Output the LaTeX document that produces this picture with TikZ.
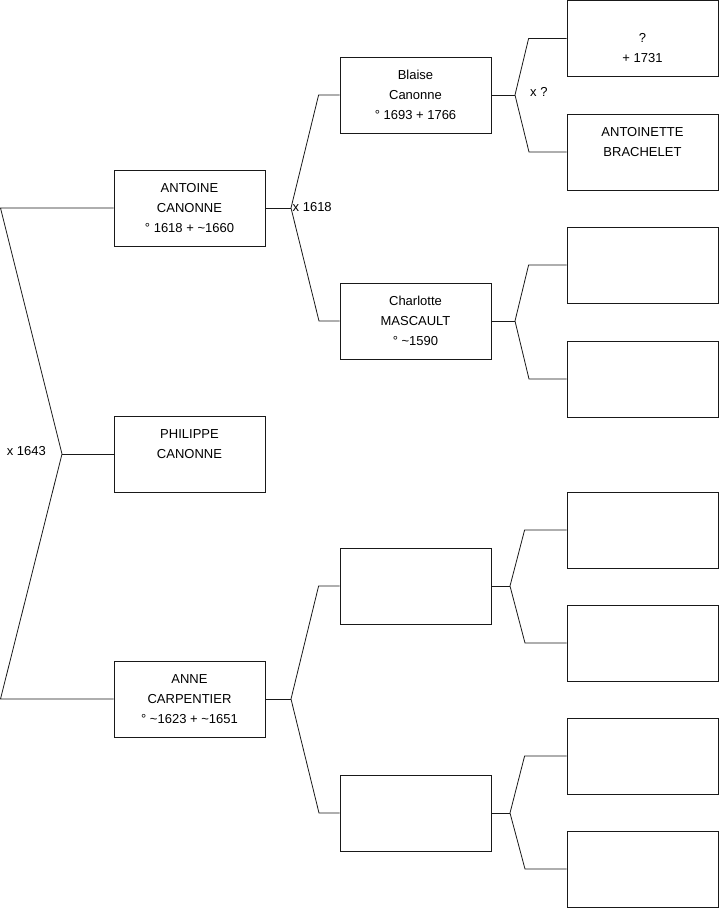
\documentclass[tikz,border=0pt]{standalone}
\usepackage{fontspec}
\setmainfont{Liberation Sans}
\begin{document}
\begin{tikzpicture}[x=1pt,y=-1pt,
  person/.style={draw=black!90, line width=0.8pt, fill=white, rectangle,
    minimum width=151pt, minimum height=76pt, inner sep=0pt, align=center,
    font=\fontsize{13}{20}\selectfont},
  link/.style={draw=black!90, line width=0.8pt},
  lbl/.style={font=\fontsize{13}{15}\selectfont, inner sep=0pt}]
\useasboundingbox (0,0) rectangle (719,908);
% generation 1
\node[person] (antoine) at (189.5,208) {\strut ANTOINE\\\strut CANONNE\\\strut ° 1618 + \textasciitilde1660};
\node[person] (philippe) at (189.5,454) {\strut PHILIPPE\\\strut CANONNE\\\strut\mbox{}};
\node[person] (anne) at (189.5,699) {\strut ANNE\\\strut CARPENTIER\\\strut ° \textasciitilde1623 + \textasciitilde1651};
% generation 2
\node[person] (blaise) at (415.5,95) {\strut Blaise\\\strut Canonne\\\strut ° 1693 + 1766};
\node[person] (charlotte) at (415.5,321) {\strut Charlotte\\\strut MASCAULT\\\strut ° \textasciitilde1590};
\node[person] (e1) at (415.5,586) {};
\node[person] (e2) at (415.5,813) {};
% generation 3
\node[person] (g1) at (642.5,38.5) {\strut\mbox{}\\\strut ?\\\strut + 1731};
\node[person] (g2) at (642.5,152) {\strut ANTOINETTE\\\strut BRACHELET\\\strut\mbox{}};
\node[person] (g3) at (642.5,265) {};
\node[person] (g4) at (642.5,379) {};
\node[person] (g5) at (642.5,530) {};
\node[person] (g6) at (642.5,643) {};
\node[person] (g7) at (642.5,756) {};
\node[person] (g8) at (642.5,869) {};
% root fork
\coordinate (r0) at (62,454);
\coordinate (ra) at (0.5,208);
\coordinate (rb) at (0.5,699);
\draw[link] (r0) -- (philippe.west);
\draw[link] (antoine.west) -- (ra) -- (r0) -- (rb) -- (anne.west);
\node[lbl, anchor=east] (m1643) at (46,451) {x 1643};
% antoine fork
\coordinate (fa) at (291,208);
\draw[link] (antoine.east) -- (fa);
\draw[link] (blaise.west) -- ++(-21,0) -- (fa) -- (319,321) -- (charlotte.west);
\node[lbl, anchor=west] (m1618) at (292.5,207) {x 1618};
% anne fork
\coordinate (fn) at (291,699);
\draw[link] (anne.east) -- (fn);
\draw[link] (e1.west) -- ++(-21,0) -- (fn) -- (319,813) -- (e2.west);
% blaise fork
\coordinate (fb) at (515,95);
\draw[link] (blaise.east) -- (fb);
\draw[link] (g1.west) -- ++(-38,0) -- (fb) -- (529,152) -- (g2.west);
\node[lbl, anchor=west] (mq) at (530,92) {x ?};
% charlotte fork
\coordinate (fc) at (515,321);
\draw[link] (charlotte.east) -- (fc);
\draw[link] (g3.west) -- ++(-38,0) -- (fc) -- (529,379) -- (g4.west);
% e1 fork
\coordinate (f1) at (510,586);
\draw[link] (e1.east) -- (f1);
\draw[link] (g5.west) -- ++(-42,0) -- (f1) -- (525,643) -- (g6.west);
% e2 fork
\coordinate (f2) at (510,813);
\draw[link] (e2.east) -- (f2);
\draw[link] (g7.west) -- ++(-42,0) -- (f2) -- (525,869) -- (g8.west);
\end{tikzpicture}
\end{document}
